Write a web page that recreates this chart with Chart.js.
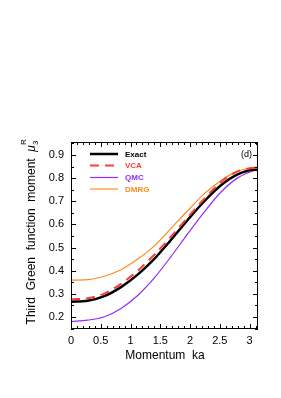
<!DOCTYPE html>
<html>
<head>
<meta charset="utf-8">
<script src="https://cdn.jsdelivr.net/npm/chart.js@4.4.1/dist/chart.umd.min.js"></script>
<style>
  html, body { margin: 0; padding: 0; background: #fff; }
  canvas { display: block; }
</style>
</head>
<body>
<canvas id="momentChart" width="281" height="398"></canvas>
<script>
// values
const momentum = [0, 0.28, 0.56, 0.84, 1.12, 1.40, 1.68, 1.96, 2.24, 2.52, 2.80, 3.08, 3.1416];
const exact = [0.266, 0.270, 0.290, 0.329, 0.383, 0.451, 0.533, 0.619, 0.700, 0.769, 0.816, 0.836, 0.836];
const vca   = [0.276, 0.281, 0.301, 0.343, 0.400, 0.469, 0.547, 0.630, 0.711, 0.783, 0.829, 0.845, 0.846];
const qmc   = [0.180, 0.186, 0.201, 0.237, 0.293, 0.369, 0.461, 0.559, 0.654, 0.740, 0.801, 0.833, 0.836];
const dmrg  = [0.359, 0.361, 0.376, 0.404, 0.450, 0.507, 0.583, 0.659, 0.733, 0.790, 0.830, 0.846, 0.847];

const xTicks = [0, 0.5, 1, 1.5, 2, 2.5, 3];
const yTicks = [0.2, 0.3, 0.4, 0.5, 0.6, 0.7, 0.8, 0.9];

const seriesNames = ["Exact", "VCA", "QMC", "DMRG"];
const seriesColors = ["#000000", "#ff3b3b", "#8f2df5", "#ff8a1e"];

const FONT = "'Liberation Sans', Arial, sans-serif";

function points(ys) {
    return momentum.map((k, i) => ({ x: k, y: ys[i] }));
}

// frame, inward ticks, legend and labels
const decorations = {
    id: "decorations",
    afterDraw(chart) {
        const ctx = chart.ctx;
        const area = chart.chartArea;
        const xs = chart.scales.x;
        const ys = chart.scales.y;
        ctx.save();
        ctx.strokeStyle = "#000";
        ctx.lineWidth = 1;
        ctx.strokeRect(area.left + 0.5, area.top + 0.5, area.right - area.left - 1, area.bottom - area.top - 1);

        // x ticks every 0.1, longer at every 0.5
        ctx.beginPath();
        for (let i = 0; i <= 31; i++) {
            const v = i / 10;
            const px = Math.round(xs.getPixelForValue(v)) + 0.5;
            const len = i % 5 === 0 ? 5 : 3;
            ctx.moveTo(px, area.bottom);
            ctx.lineTo(px, area.bottom - len);
            ctx.moveTo(px, area.top);
            ctx.lineTo(px, area.top + len);
        }
        // y ticks every 0.05
        for (let i = 3; i <= 19; i++) {
            const v = i * 0.05;
            const py = Math.round(ys.getPixelForValue(v)) + 0.5;
            const len = i % 2 === 0 ? 5 : 3;
            ctx.moveTo(area.left, py);
            ctx.lineTo(area.left + len, py);
            ctx.moveTo(area.right, py);
            ctx.lineTo(area.right - len, py);
        }
        ctx.stroke();

        // legend
        const rows = [154, 165.5, 177.5, 189];
        seriesNames.forEach((name, i) => {
            const ds = chart.data.datasets[i];
            ctx.beginPath();
            ctx.strokeStyle = seriesColors[i];
            ctx.lineWidth = ds.borderWidth;
            ctx.setLineDash(ds.borderDash || []);
            ctx.moveTo(90, rows[i]);
            ctx.lineTo(118, rows[i]);
            ctx.stroke();
            ctx.setLineDash([]);
            ctx.fillStyle = seriesColors[i];
            ctx.font = "bold 8px " + FONT;
            ctx.textAlign = "left";
            ctx.textBaseline = "middle";
            ctx.fillText(name, 125, rows[i] + 0.5);
        });

        ctx.fillStyle = "#000";
        ctx.font = "9px " + FONT;
        ctx.textAlign = "left";
        ctx.fillText("(d)", 241, 154.5);

        // x title
        ctx.font = "12px " + FONT;
        ctx.textAlign = "center";
        ctx.textBaseline = "middle";
        ctx.fillText("Momentum  ka", 165, 356);

        // y title with mu_3^R
        ctx.translate(31, 232);
        ctx.rotate(-Math.PI / 2);
        const main = "Third  Green  function  moment  ";
        ctx.font = "12px " + FONT;
        const wMain = ctx.measureText(main).width;
        ctx.font = "italic 12px " + FONT;
        const wMu = ctx.measureText("\u03bc").width;
        ctx.font = "8px " + FONT;
        const wSub = ctx.measureText("3").width;
        const total = wMain + wMu + wSub + 1;
        let x0 = -total / 2;
        ctx.textAlign = "left";
        ctx.textBaseline = "alphabetic";
        ctx.font = "12px " + FONT;
        ctx.fillText(main, x0, 4);
        ctx.font = "italic 12px " + FONT;
        ctx.fillText("\u03bc", x0 + wMain, 4);
        ctx.font = "8px " + FONT;
        ctx.fillText("3", x0 + wMain + wMu, 7);
        ctx.fillText("R", x0 + wMain + wMu, -5);
        ctx.restore();
    }
};

new Chart(document.getElementById("momentChart"), {
    type: "line",
    data: {
        datasets: [
            { label: "Exact", data: points(exact), borderColor: seriesColors[0], borderWidth: 2.5, order: 1 },
            { label: "VCA", data: points(vca), borderColor: seriesColors[1], borderWidth: 2, borderDash: [9, 6], order: 0 },
            { label: "QMC", data: points(qmc), borderColor: seriesColors[2], borderWidth: 1.2, order: 2 },
            { label: "DMRG", data: points(dmrg), borderColor: seriesColors[3], borderWidth: 1.2, order: 3 },
        ],
    },
    options: {
        responsive: false,
        animation: false,
        devicePixelRatio: 1,
        layout: { padding: { top: 142, right: 23, left: 0, bottom: 0 } },
        elements: {
            point: { radius: 0 },
            line: { cubicInterpolationMode: "monotone", fill: false },
        },
        plugins: {
            legend: { display: false },
            tooltip: { enabled: false },
        },
        scales: {
            x: {
                type: "linear",
                min: 0,
                max: 3.1416,
                grid: { display: false, drawTicks: false },
                border: { display: false },
                afterBuildTicks: (scale) => { scale.ticks = xTicks.map((v) => ({ value: v })); },
                afterFit: (scale) => { scale.height = 69; },
                ticks: {
                    padding: 5,
                    color: "#000",
                    font: { size: 11, family: FONT },
                    maxRotation: 0,
                    callback: (v) => String(v),
                },
            },
            y: {
                min: 0.148,
                max: 0.956,
                grid: { display: false, drawTicks: false },
                border: { display: false },
                afterBuildTicks: (scale) => { scale.ticks = yTicks.map((v) => ({ value: v })); },
                afterFit: (scale) => { scale.width = 71; },
                ticks: {
                    padding: 7,
                    color: "#000",
                    font: { size: 11, family: FONT },
                    callback: (v) => v.toFixed(1),
                },
            },
        },
    },
    plugins: [decorations],
});
</script>
</body>
</html>
